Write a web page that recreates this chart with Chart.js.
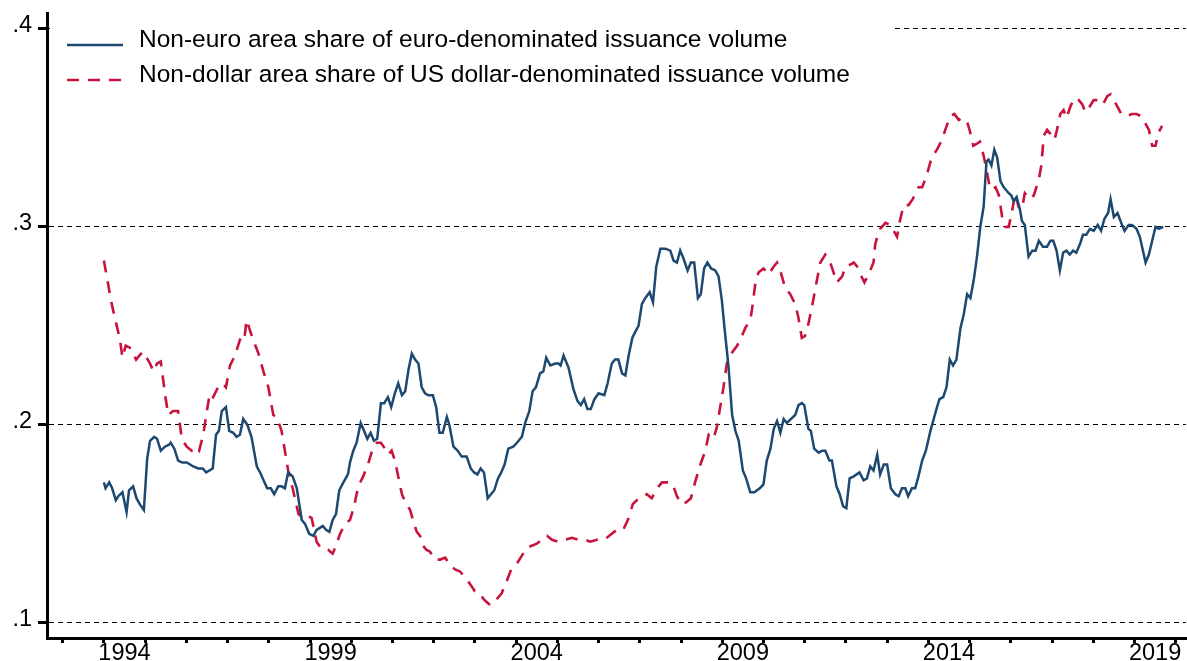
<!DOCTYPE html>
<html>
<head>
<meta charset="utf-8">
<title>Non-home-area shares of issuance</title>
<script src="https://cdn.jsdelivr.net/npm/chart.js@4.4.1/dist/chart.umd.min.js"></script>
<style>
  html, body { margin: 0; padding: 0; background: #fff; }
  canvas { display: block; }
</style>
</head>
<body>
<canvas id="chart" width="1187" height="661"></canvas>
<script>
const labelYears = [1994, 1999, 2004, 2009, 2014, 2019];
const yTicks = [0.1, 0.2, 0.3, 0.4];

// Non-euro area share of euro-denominated issuance (decimal year, share)
const euroYears = [
  1994.00, 1994.04, 1994.13, 1994.20, 1994.29, 1994.35, 1994.45, 1994.55, 1994.61, 1994.71,
  1994.79, 1994.87, 1994.97, 1995.05, 1995.12, 1995.22, 1995.29, 1995.38, 1995.48, 1995.58,
  1995.62, 1995.71, 1995.80, 1995.90, 1996.01, 1996.17, 1996.29, 1996.40, 1996.48, 1996.56,
  1996.64, 1996.72, 1996.79, 1996.86, 1996.96, 1997.04, 1997.14, 1997.22, 1997.30, 1997.38,
  1997.48, 1997.58, 1997.71, 1997.79, 1997.96, 1998.05, 1998.13, 1998.23, 1998.31, 1998.39,
  1998.47, 1998.58, 1998.68, 1998.80, 1998.88, 1998.98, 1999.08, 1999.16, 1999.24, 1999.31,
  1999.39, 1999.47, 1999.55, 1999.63, 1999.71, 1999.81, 1999.92, 1999.97, 2000.05, 2000.13,
  2000.23, 2000.31, 2000.39, 2000.47, 2000.55, 2000.63, 2000.72, 2000.80, 2000.89, 2000.97,
  2001.06, 2001.14, 2001.23, 2001.31, 2001.39, 2001.47, 2001.55, 2001.63, 2001.71, 2001.79,
  2001.87, 2001.98, 2002.06, 2002.14, 2002.22, 2002.32, 2002.38, 2002.48, 2002.58, 2002.68,
  2002.80, 2002.90, 2002.98, 2003.06, 2003.14, 2003.22, 2003.31, 2003.39, 2003.47, 2003.56,
  2003.64, 2003.72, 2003.81, 2003.93, 2004.02, 2004.14, 2004.22, 2004.32, 2004.40, 2004.48,
  2004.58, 2004.66, 2004.73, 2004.83, 2004.95, 2005.03, 2005.08, 2005.15, 2005.27, 2005.39,
  2005.49, 2005.57, 2005.65, 2005.73, 2005.81, 2005.90, 2006.00, 2006.14, 2006.22, 2006.32,
  2006.40, 2006.48, 2006.57, 2006.65, 2006.73, 2006.82, 2006.89, 2006.97, 2007.05, 2007.13,
  2007.24, 2007.32, 2007.40, 2007.50, 2007.62, 2007.74, 2007.82, 2007.90, 2007.98, 2008.06,
  2008.16, 2008.24, 2008.32, 2008.41, 2008.48, 2008.56, 2008.64, 2008.73, 2008.83, 2008.91,
  2008.99, 2009.06, 2009.15, 2009.24, 2009.32, 2009.40, 2009.50, 2009.58, 2009.68, 2009.78,
  2009.91, 2010.00, 2010.08, 2010.17, 2010.25, 2010.33, 2010.41, 2010.49, 2010.57, 2010.67,
  2010.77, 2010.85, 2010.93, 2010.99, 2011.09, 2011.15, 2011.23, 2011.34, 2011.42, 2011.50,
  2011.60, 2011.66, 2011.77, 2011.85, 2011.93, 2012.01, 2012.09, 2012.19, 2012.33, 2012.43,
  2012.51, 2012.59, 2012.67, 2012.76, 2012.83, 2012.92, 2013.00, 2013.09, 2013.20, 2013.28,
  2013.36, 2013.44, 2013.51, 2013.60, 2013.68, 2013.76, 2013.85, 2013.94, 2014.05, 2014.13,
  2014.21, 2014.27, 2014.36, 2014.44, 2014.52, 2014.60, 2014.68, 2014.78, 2014.86, 2014.94,
  2015.02, 2015.10, 2015.18, 2015.26, 2015.34, 2015.41, 2015.46, 2015.53, 2015.60, 2015.67,
  2015.75, 2015.83, 2015.95, 2016.01, 2016.07, 2016.14, 2016.22, 2016.27, 2016.34, 2016.43,
  2016.52, 2016.60, 2016.68, 2016.78, 2016.88, 2016.96, 2017.03, 2017.11, 2017.19, 2017.27,
  2017.35, 2017.43, 2017.51, 2017.59, 2017.69, 2017.75, 2017.83, 2017.92, 2018.01, 2018.11,
  2018.19, 2018.27, 2018.36, 2018.42, 2018.50, 2018.59, 2018.68, 2018.76, 2018.86, 2018.94,
  2019.05, 2019.13, 2019.27, 2019.35, 2019.43, 2019.51, 2019.59, 2019.70
];
const euroShare = [
  .171, .168, .171, .168, .162, .164, .166, .156, .167, .169,
  .163, .160, .157, .183, .192, .194, .193, .187, .189, .190,
  .191, .188, .182, .181, .181, .179, .178, .178, .176, .177,
  .178, .195, .197, .207, .209, .197, .196, .194, .195, .203,
  .200, .194, .179, .176, .168, .168, .165, .169, .169, .168,
  .176, .174, .168, .152, .150, .145, .144, .147, .148, .149,
  .147, .146, .152, .155, .167, .171, .175, .181, .187, .191,
  .201, .197, .193, .196, .192, .193, .211, .211, .214, .209,
  .216, .221, .215, .217, .228, .236, .233, .231, .219, .216,
  .215, .215, .209, .196, .196, .204, .200, .189, .187, .184,
  .184, .178, .176, .175, .178, .176, .163, .165, .167, .173,
  .176, .180, .188, .189, .191, .194, .201, .207, .217, .219,
  .226, .227, .234, .230, .231, .231, .230, .235, .229, .218,
  .212, .210, .213, .208, .208, .213, .216, .215, .221, .231,
  .233, .233, .226, .225, .235, .244, .247, .250, .261, .264,
  .267, .262, .280, .289, .289, .288, .283, .282, .288, .284,
  .278, .282, .282, .264, .266, .279, .282, .279, .278, .275,
  .263, .248, .230, .205, .197, .192, .177, .173, .166, .166,
  .168, .170, .182, .188, .198, .202, .196, .203, .201, .203,
  .205, .210, .211, .210, .198, .197, .188, .186, .187, .187,
  .182, .182, .169, .165, .159, .158, .173, .174, .176, .172,
  .173, .179, .177, .185, .175, .180, .180, .168, .165, .164,
  .168, .168, .164, .168, .168, .174, .182, .187, .197, .203,
  .209, .213, .214, .219, .233, .230, .233, .249, .256, .266,
  .264, .273, .285, .300, .310, .333, .334, .331, .339, .335,
  .323, .320, .317, .316, .313, .315, .309, .303, .301, .285,
  .288, .288, .293, .290, .290, .293, .293, .288, .278, .287,
  .288, .286, .288, .287, .292, .296, .296, .299, .298, .301,
  .298, .304, .307, .314, .305, .307, .302, .298, .301, .301,
  .299, .295, .282, .286, .293, .300, .299, .300
];

// Non-dollar area share of US dollar-denominated issuance (decimal year, share)
const dollarYears = [
  1994.00, 1994.19, 1994.39, 1994.45, 1994.53, 1994.63, 1994.78, 1994.86, 1994.95, 1995.12,
  1995.20, 1995.29, 1995.38, 1995.48, 1995.56, 1995.68, 1995.80, 1995.89, 1996.01, 1996.13,
  1996.21, 1996.31, 1996.41, 1996.49, 1996.57, 1996.65, 1996.77, 1996.88, 1996.96, 1997.06,
  1997.18, 1997.30, 1997.40, 1997.46, 1997.54, 1997.62, 1997.75, 1997.87, 1997.99, 1998.11,
  1998.19, 1998.31, 1998.39, 1998.47, 1998.59, 1998.72, 1998.84, 1998.96, 1999.04, 1999.16,
  1999.26, 1999.36, 1999.44, 1999.55, 1999.63, 1999.73, 1999.85, 1999.97, 2000.07, 2000.17,
  2000.29, 2000.42, 2000.52, 2000.62, 2000.72, 2000.82, 2000.90, 2000.98, 2001.06, 2001.14,
  2001.23, 2001.31, 2001.43, 2001.51, 2001.59, 2001.67, 2001.74, 2001.82, 2001.91, 2002.03,
  2002.16, 2002.28, 2002.40, 2002.52, 2002.64, 2002.76, 2002.87, 2003.00, 2003.13, 2003.21,
  2003.37, 2003.49, 2003.65, 2003.77, 2003.88, 2004.02, 2004.14, 2004.26, 2004.38, 2004.50,
  2004.62, 2004.75, 2004.87, 2005.03, 2005.19, 2005.35, 2005.51, 2005.67, 2005.80, 2005.96,
  2006.12, 2006.20, 2006.32, 2006.44, 2006.60, 2006.73, 2006.83, 2006.93, 2007.05, 2007.17,
  2007.29, 2007.42, 2007.54, 2007.70, 2007.80, 2007.90, 2008.02, 2008.13, 2008.24, 2008.34,
  2008.47, 2008.59, 2008.67, 2008.79, 2008.87, 2008.95, 2009.03, 2009.11, 2009.22, 2009.36,
  2009.44, 2009.56, 2009.68, 2009.72, 2009.80, 2009.88, 2010.00, 2010.12, 2010.25, 2010.33,
  2010.42, 2010.53, 2010.65, 2010.77, 2010.85, 2010.93, 2011.01, 2011.09, 2011.18, 2011.26,
  2011.38, 2011.50, 2011.62, 2011.70, 2011.78, 2011.91, 2011.99, 2012.11, 2012.19, 2012.27,
  2012.35, 2012.45, 2012.55, 2012.67, 2012.71, 2012.76, 2012.83, 2012.96, 2013.08, 2013.16,
  2013.24, 2013.32, 2013.40, 2013.52, 2013.62, 2013.76, 2013.85, 2013.96, 2014.08, 2014.21,
  2014.33, 2014.41, 2014.53, 2014.63, 2014.74, 2014.82, 2014.94, 2015.00, 2015.09, 2015.18,
  2015.25, 2015.34, 2015.41, 2015.50, 2015.63, 2015.71, 2015.79, 2015.87, 2015.95, 2016.03,
  2016.11, 2016.19, 2016.27, 2016.34, 2016.46, 2016.56, 2016.68, 2016.74, 2016.80, 2016.88,
  2016.96, 2017.06, 2017.12, 2017.20, 2017.28, 2017.35, 2017.45, 2017.54, 2017.65, 2017.73,
  2017.81, 2017.89, 2018.01, 2018.16, 2018.24, 2018.34, 2018.42, 2018.50, 2018.58, 2018.68,
  2018.82, 2018.94, 2019.05, 2019.15, 2019.27, 2019.35, 2019.43, 2019.51, 2019.59, 2019.67
];
const dollarShare = [
  .283, .261, .243, .234, .240, .239, .233, .235, .237, .231,
  .227, .231, .232, .216, .205, .207, .207, .193, .189, .187,
  .189, .187, .195, .206, .216, .214, .219, .221, .219, .230,
  .235, .243, .242, .253, .248, .243, .236, .227, .219, .205,
  .204, .197, .187, .177, .167, .155, .153, .154, .153, .141,
  .138, .137, .137, .135, .139, .145, .150, .152, .159, .169,
  .174, .181, .188, .191, .191, .188, .185, .187, .182, .174,
  .165, .161, .157, .151, .146, .144, .139, .137, .136, .132,
  .132, .133, .129, .127, .126, .123, .120, .116, .115, .112,
  .109, .111, .115, .121, .127, .130, .134, .138, .139, .140,
  .142, .144, .142, .141, .142, .143, .142, .142, .141, .142,
  .142, .143, .145, .147, .147, .153, .160, .162, .163, .165,
  .163, .168, .171, .171, .170, .164, .160, .161, .163, .171,
  .180, .187, .195, .193, .199, .209, .219, .231, .236, .240,
  .243, .249, .253, .258, .271, .277, .279, .276, .280, .282,
  .277, .269, .266, .261, .254, .244, .245, .251, .260, .269,
  .282, .286, .282, .277, .272, .275, .280, .281, .282, .280,
  .276, .272, .276, .282, .291, .295, .299, .302, .301, .298,
  .295, .304, .311, .311, .314, .320, .320, .326, .335, .339,
  .344, .349, .356, .357, .354, .355, .353, .349, .341, .342,
  .343, .336, .329, .319, .320, .316, .305, .300, .300, .308,
  .317, .310, .309, .317, .314, .316, .324, .331, .346, .349,
  .347, .344, .349, .357, .359, .355, .361, .365, .364, .362,
  .358, .360, .364, .364, .362, .366, .367, .364, .361, .357,
  .356, .357, .357, .356, .352, .349, .341, .341, .348, .351
];

// year ticks (marks only) plus mid-year label positions
const xTicks = [];
for (let yr = 1993; yr <= 2020; yr++) xTicks.push(yr);
labelYears.forEach(yr => xTicks.push(yr + 0.5));
xTicks.sort((a, b) => a - b);

const FONT = '"Liberation Sans", Arial, sans-serif';
Chart.defaults.font.family = FONT;
Chart.defaults.color = '#000';

// legend drawn in the top-left corner over a white box that hides the .4 grid line
const cornerLegend = {
  id: 'cornerLegend',
  beforeDatasetsDraw(chart) {
    const ctx = chart.ctx;
    ctx.save();
    ctx.fillStyle = '#fff';
    ctx.fillRect(50, 16, 843, 80);
    chart.data.datasets.forEach((ds, i) => {
      const y = 45 + i * 35;
      ctx.strokeStyle = ds.borderColor;
      ctx.lineWidth = ds.borderWidth;
      ctx.setLineDash(ds.borderDash || []);
      ctx.beginPath();
      ctx.moveTo(67, y);
      ctx.lineTo(123, y);
      ctx.stroke();
      ctx.setLineDash([]);
      ctx.fillStyle = '#000';
      ctx.font = '24.5px ' + FONT;
      ctx.textBaseline = 'alphabetic';
      ctx.fillText(ds.label, 139, 47 + i * 35);
    });
    ctx.restore();
  }
};

new Chart(document.getElementById('chart'), {
  type: 'line',
  data: {
    datasets: [
      {
        label: 'Non-euro area share of euro-denominated issuance volume',
        data: euroYears.map((x, i) => ({ x: x, y: euroShare[i] })),
        borderColor: '#1d4971',
        borderWidth: 2.5,
        pointRadius: 0,
        tension: 0
      },
      {
        label: 'Non-dollar area share of US dollar-denominated issuance volume',
        data: dollarYears.map((x, i) => ({ x: x, y: dollarShare[i] })),
        borderColor: '#c8143c',
        borderWidth: 2.6,
        borderDash: [12, 9],
        pointRadius: 0,
        tension: 0
      }
    ]
  },
  options: {
    responsive: false,
    animation: false,
    devicePixelRatio: 1,
    layout: { padding: { top: 13, right: 1, left: 0, bottom: 0 } },
    plugins: {
      legend: { display: false },
      tooltip: { enabled: false }
    },
    scales: {
      x: {
        type: 'linear',
        min: 1992.62,
        max: 2020.25,
        afterBuildTicks: s => { s.ticks = xTicks.map(v => ({ value: v })); },
        afterFit: s => { s.height = 23; s.paddingLeft = 0; s.paddingRight = 0; },
        border: { display: true, color: '#000', width: 3 },
        grid: {
          drawOnChartArea: false,
          drawTicks: true,
          tickLength: 5,
          tickWidth: 3,
          tickColor: c => Number.isInteger(c.tick.value) ? '#000' : 'rgba(0,0,0,0)'
        },
        ticks: {
          autoSkip: false,
          maxRotation: 0,
          padding: -4,
          color: '#000',
          font: { size: 23.5 },
          callback: v => labelYears.includes(v - 0.5) ? String(v - 0.5) : ''
        }
      },
      y: {
        min: 0.0924,
        max: 0.408,
        afterBuildTicks: s => { s.ticks = yTicks.map(v => ({ value: v })); },
        afterFit: s => { s.width = 47; s.paddingTop = 0; s.paddingBottom = 0; },
        border: { display: true, color: '#000', width: 3, dash: [5, 4] },
        grid: {
          color: '#000',
          lineWidth: 1,
          tickLength: 9,
          tickWidth: 3,
          tickColor: '#000'
        },
        ticks: {
          padding: 6,
          labelOffset: -3,
          color: '#000',
          font: { size: 23.5 },
          callback: v => v.toFixed(1).slice(1)
        }
      }
    }
  },
  plugins: [cornerLegend]
});
</script>
</body>
</html>
